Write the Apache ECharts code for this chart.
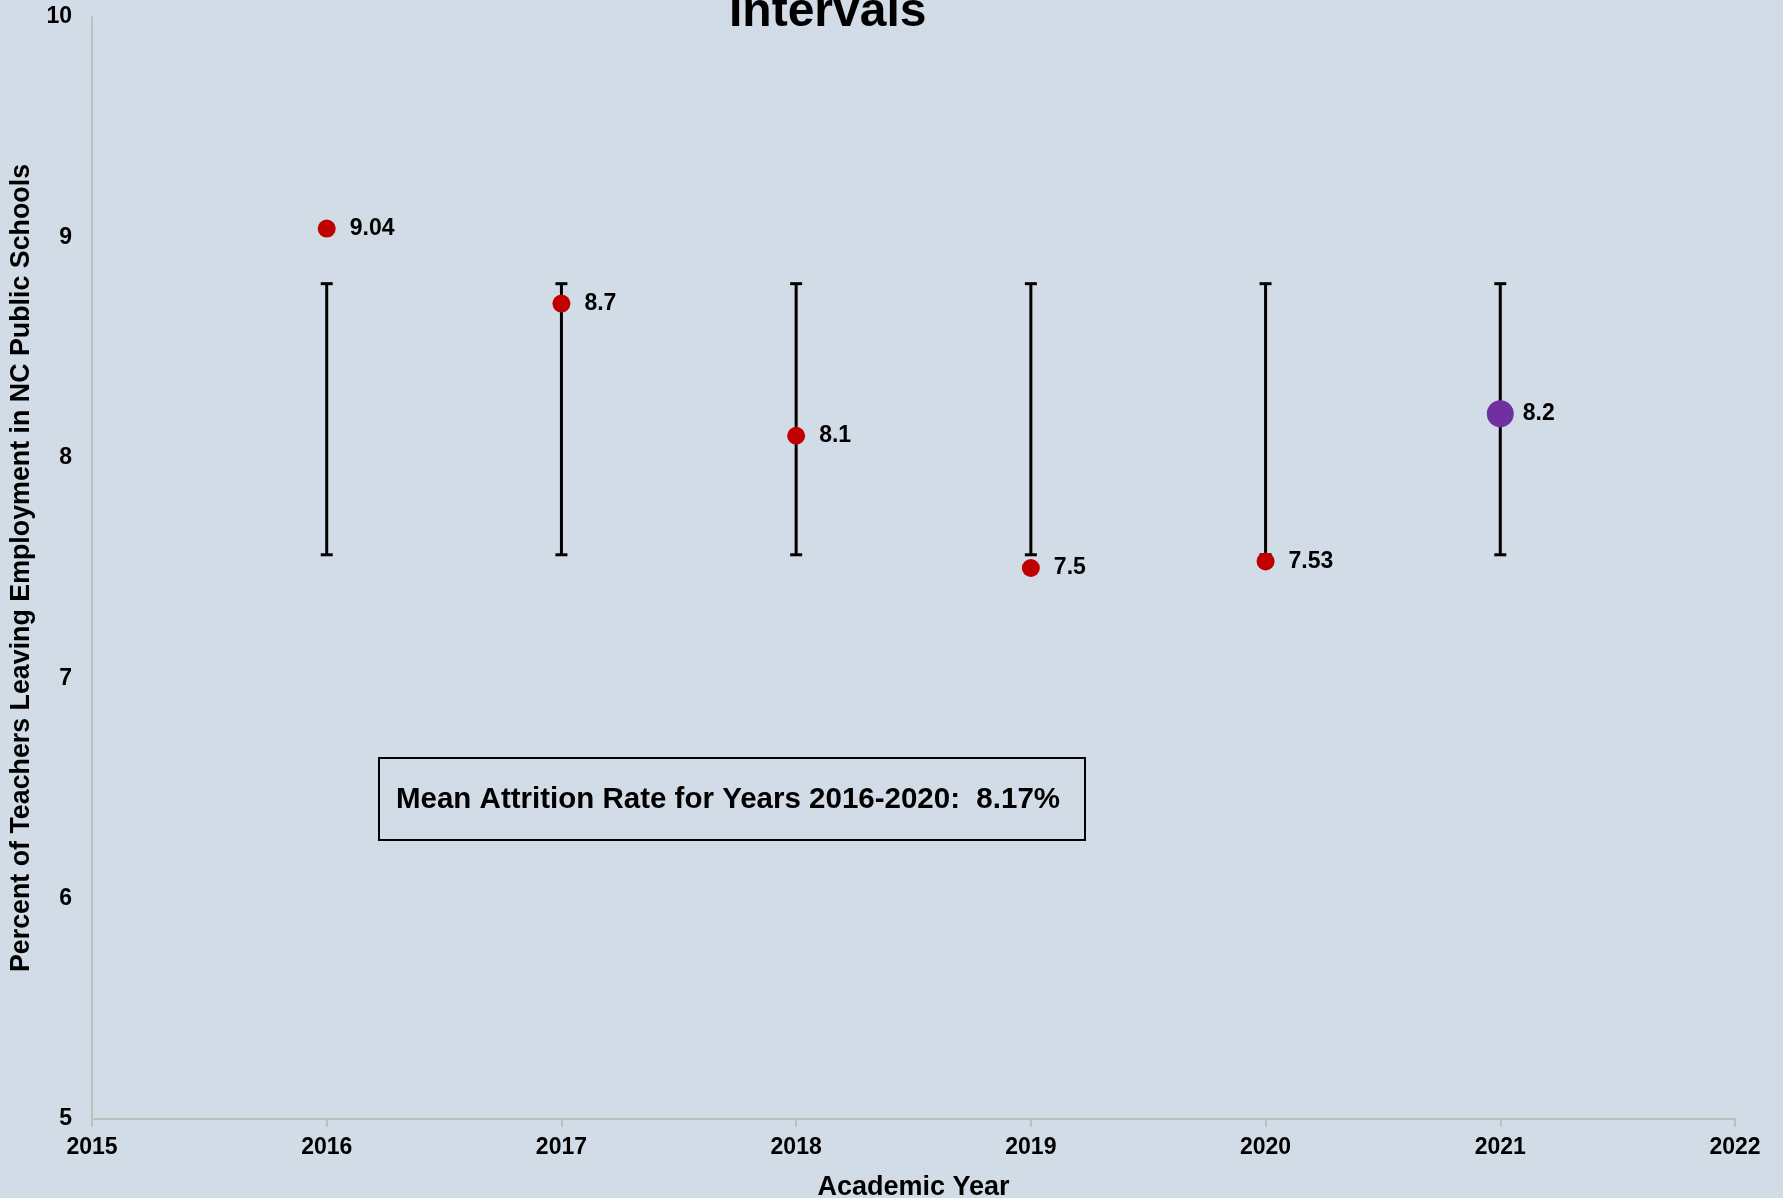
<!DOCTYPE html>
<html>
<head>
<meta charset="utf-8">
<script src="https://cdn.jsdelivr.net/npm/echarts@6/dist/echarts.min.js"></script>
<style>
html,body{margin:0;padding:0;background:#D2DCE6;overflow:hidden;}
#chart{width:1783px;height:1198px;}
</style>
</head>
<body>
<div id="chart"></div>
<script>
// ---- data ----
const years = [2016, 2017, 2018, 2019, 2020, 2021];
const rates = [9.04, 8.7, 8.1, 7.5, 7.53, 8.2];
const ciLower = [7.56, 7.56, 7.56, 7.56, 7.56, 7.56];
const ciUpper = [8.79, 8.79, 8.79, 8.79, 8.79, 8.79];
const highlightYear = 2021;
const titleText = 'Intervals';
const xAxisTitle = 'Academic Year';
const yAxisTitle = 'Percent of Teachers Leaving Employment in NC Public Schools';
const annotationText = 'Mean Attrition Rate for Years 2016-2020:  8.17%';

const FONT = '"Liberation Sans", Arial, Helvetica, sans-serif';

const chart = echarts.init(document.getElementById('chart'));

const pastPts = [], curPts = [];
years.forEach((y, i) => {
  if (y === highlightYear) curPts.push([y, rates[i]]);
  else pastPts.push([y, rates[i]]);
});
const errData = years.map((y, i) => [y, ciLower[i], ciUpper[i]]);

const labelStyle = (dist) => ({
  show: true, position: 'right', distance: dist,
  color: '#000', fontFamily: FONT, fontWeight: 'bold', fontSize: 23,
  formatter: p => String(p.value[1])
});

chart.setOption({
  backgroundColor: '#D2DCE6',
  animation: false,
  textStyle: { fontFamily: FONT },
  title: {
    text: titleText, left: 724, top: -16,
    textStyle: { fontFamily: FONT, fontWeight: 'bold', fontSize: 48, color: '#000' }
  },
  grid: { left: 92, right: 48, top: 17, bottom: 79, containLabel: false, outerBoundsMode: 'none' },
  xAxis: {
    type: 'value', min: 2015, max: 2022, interval: 1,
    name: xAxisTitle, nameLocation: 'middle', nameGap: 55,
    nameTextStyle: { fontFamily: FONT, fontWeight: 'bold', fontSize: 27, color: '#000' },
    axisLine: { show: true, lineStyle: { color: '#BFBFBF', width: 2 } },
    axisTick: { show: true, length: 8, lineStyle: { color: '#BFBFBF', width: 2 } },
    axisLabel: { color: '#000', fontFamily: FONT, fontWeight: 'bold', fontSize: 23, margin: 17,
                 formatter: v => String(v) },
    splitLine: { show: false }
  },
  yAxis: {
    type: 'value', min: 5, max: 10, interval: 1,
    name: yAxisTitle, nameLocation: 'middle', nameGap: 54,
    nameTextStyle: { fontFamily: FONT, fontWeight: 'bold', fontSize: 26.8, color: '#000' },
    axisLine: { show: true, lineStyle: { color: '#BFBFBF', width: 2 } },
    axisTick: { show: false },
    axisLabel: { color: '#000', fontFamily: FONT, fontWeight: 'bold', fontSize: 23, margin: 20 },
    splitLine: { show: false }
  },
  series: [
    {
      type: 'custom', name: 'CI', z: 1,
      data: errData,
      renderItem: function (params, api) {
        const x = api.value(0);
        const lo = api.coord([x, api.value(1)]);
        const hi = api.coord([x, api.value(2)]);
        const hw = 6;
        const st = { stroke: '#000', lineWidth: 3 };
        return {
          type: 'group',
          children: [
            { type: 'line', shape: { x1: hi[0], y1: hi[1], x2: lo[0], y2: lo[1] }, style: st },
            { type: 'line', shape: { x1: hi[0] - hw, y1: hi[1], x2: hi[0] + hw, y2: hi[1] }, style: st },
            { type: 'line', shape: { x1: lo[0] - hw, y1: lo[1], x2: lo[0] + hw, y2: lo[1] }, style: st }
          ]
        };
      }
    },
    {
      type: 'scatter', name: 'Prior years', z: 3,
      symbol: 'circle', symbolSize: 18,
      itemStyle: { color: '#C00000', opacity: 1 },
      label: labelStyle(14),
      data: pastPts
    },
    {
      type: 'scatter', name: 'Current year', z: 3,
      symbol: 'circle', symbolSize: 27,
      itemStyle: { color: '#7030A0', opacity: 1 },
      label: labelStyle(9),
      data: curPts
    }
  ],
  graphic: [
    {
      type: 'group', left: 378, top: 757,
      children: [
        { type: 'rect', shape: { x: 0, y: 0, width: 706, height: 82 },
          style: { fill: 'rgba(0,0,0,0)', stroke: '#000', lineWidth: 2 } },
        { type: 'text', x: 349, y: 42,
          style: { text: annotationText, fill: '#000', font: 'bold 29.5px ' + FONT,
                   textAlign: 'center', textVerticalAlign: 'middle' } }
      ]
    }
  ]
});
</script>
</body>
</html>
